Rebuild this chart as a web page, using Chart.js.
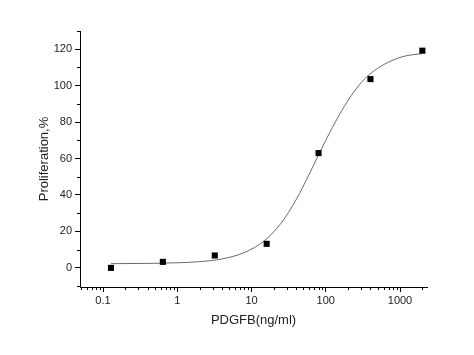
<!DOCTYPE html>
<html>
<head>
<meta charset="utf-8">
<script src="https://cdn.jsdelivr.net/npm/chart.js@4"></script>
<style>
  html, body { margin: 0; padding: 0; background: #fff; }
  #wrap { width: 474px; height: 355px; }
</style>
</head>
<body>
<div id="wrap"><canvas id="doseChart" width="474" height="355"></canvas></div>
<script>
// measured points: PDGFB concentration (ng/ml) vs proliferation (%)
var concentrations = [0.128, 0.64, 3.2, 16, 80, 400, 2000];
var proliferation = [0, 3.3, 6.8, 13.2, 63, 103.6, 119.2];

// fitted curve
var curveX = [0.128, 0.5, 1, 2, 4, 8, 15, 25, 40, 60, 80, 100, 150, 220, 330, 500, 750, 1100, 1500, 2000];
var curveY = [2.3, 2.5, 2.8, 3.4, 4.9, 8.4, 15, 24.5, 37.5, 51.5, 62, 70, 83.5, 94.5, 103.5, 109.5, 113.5, 116, 117, 117.6];

var xMajorTicks = [0.1, 1, 10, 100, 1000];
var yMajorTicks = [0, 20, 40, 60, 80, 100, 120];
var yMinorTicks = [-10, 10, 30, 50, 70, 90, 110, 130];

var fontFam = "'Liberation Sans', Arial, sans-serif";

function toPoints(xs, ys) {
    var pts = [];
    xs.forEach(function (x, i) { pts.push({x: x, y: ys[i]}); });
    return pts;
}

// short minor ticks on both axes
var minorTicks = {
    id: 'minorTicks',
    afterDraw: function (chart) {
        var ctx = chart.ctx,
            xs = chart.scales.x,
            ys = chart.scales.y,
            area = chart.chartArea;
        ctx.save();
        ctx.strokeStyle = '#000';
        ctx.lineWidth = 1;
        ctx.beginPath();
        for (var d = -2; d <= 3; d++) {
            for (var m = 2; m <= 9; m++) {
                var v = m * Math.pow(10, d);
                if (v < xs.min || v > xs.max) continue;
                var px = Math.round(xs.getPixelForValue(v)) + 0.5;
                ctx.moveTo(px, area.bottom);
                ctx.lineTo(px, area.bottom + 3);
            }
        }
        yMinorTicks.forEach(function (v) {
            if (v < ys.min || v > ys.max) return;
            var py = Math.round(ys.getPixelForValue(v)) + 0.5;
            ctx.moveTo(area.left, py);
            ctx.lineTo(area.left - 3, py);
        });
        ctx.stroke();
        ctx.restore();
    }
};

var ctx = document.getElementById('doseChart').getContext('2d');
var myChart = new Chart(ctx, {
    type: 'scatter',
    data: {
        datasets: [{
            label: 'fit',
            type: 'line',
            data: toPoints(curveX, curveY),
            borderColor: '#6a6a6a',
            borderWidth: 1,
            pointRadius: 0,
            cubicInterpolationMode: 'monotone',
            fill: false,
            order: 2
        }, {
            label: 'Proliferation',
            data: toPoints(concentrations, proliferation),
            pointStyle: 'rect',
            pointRadius: 4.3,
            backgroundColor: '#000',
            borderColor: '#000',
            borderWidth: 0,
            order: 1
        }]
    },
    options: {
        responsive: false,
        animation: false,
        layout: { padding: { top: 31, right: 47, left: 0, bottom: 0 } },
        plugins: { legend: { display: false }, tooltip: { enabled: false } },
        scales: {
            x: {
                type: 'logarithmic',
                min: 0.049,
                max: 2310,
                afterBuildTicks: function (scale) {
                    scale.ticks = xMajorTicks.map(function (v) { return {value: v}; });
                },
                afterFit: function (scale) { scale.height = 68; },
                ticks: {
                    color: '#222',
                    font: { family: fontFam, size: 11 },
                    padding: 2,
                    maxRotation: 0,
                    autoSkip: false,
                    callback: function (v) { return String(v); }
                },
                grid: { drawOnChartArea: false, color: '#000', tickLength: 5 },
                border: { color: '#000', width: 1 },
                title: {
                    display: true,
                    text: 'PDGFB(ng/ml)',
                    color: '#222',
                    font: { family: fontFam, size: 13 },
                    padding: { top: 0, bottom: 27 }
                }
            },
            y: {
                min: -10.5,
                max: 130,
                afterBuildTicks: function (scale) {
                    scale.ticks = yMajorTicks.map(function (v) { return {value: v}; });
                },
                afterFit: function (scale) { scale.width = 80; },
                ticks: {
                    color: '#222',
                    font: { family: fontFam, size: 11 },
                    padding: 3
                },
                grid: { drawOnChartArea: false, color: '#000', tickLength: 5 },
                border: { color: '#000', width: 1 },
                title: {
                    display: true,
                    text: 'Proliferation,%',
                    color: '#222',
                    font: { family: fontFam, size: 13 },
                    padding: { top: 37, bottom: 0 }
                }
            }
        }
    },
    plugins: [minorTicks]
});
</script>
</body>
</html>
